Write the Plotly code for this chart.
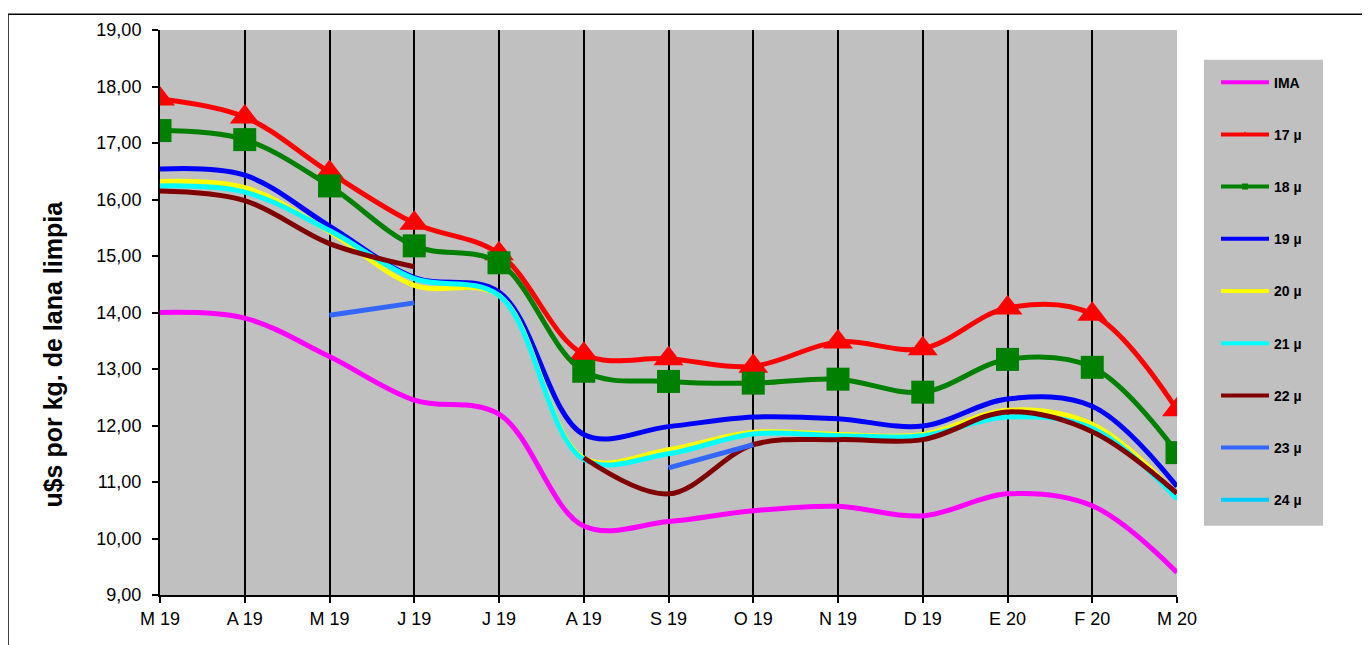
import plotly.graph_objects as go

months = ["M 19", "A 19", "M 19", "J 19", "J 19", "A 19", "S 19", "O 19",
          "N 19", "D 19", "E 20", "F 20", "M 20"]

ima  = [14.00, 13.90, 13.22, 12.45, 12.20, 10.22, 10.30, 10.49, 10.57, 10.40, 10.79, 10.58, 9.40]
m17  = [17.78, 17.46, 16.48, 15.58, 15.04, 13.26, 13.18, 13.05, 13.48, 13.36, 14.08, 13.97, 12.28]
m18  = [17.22, 17.06, 16.24, 15.18, 14.88, 12.96, 12.78, 12.75, 12.82, 12.59, 13.17, 13.03, 11.52]
m19  = [16.54, 16.43, 15.53, 14.62, 14.36, 11.84, 11.98, 12.15, 12.12, 11.99, 12.47, 12.34, 10.92]
m20  = [16.32, 16.21, 15.43, 14.48, 14.30, 11.42, 11.57, 11.88, 11.84, 11.84, 12.27, 12.02, 10.77]
m21  = [16.24, 16.13, 15.45, 14.60, 14.30, 11.40, 11.50, 11.85, 11.82, 11.82, 12.15, 11.95, 10.70]
m22  = [16.15, 15.98, 15.22, 14.81, None, 11.43, 10.79, 11.66, 11.75, 11.75, 12.24, 11.89, 10.80]
m23  = [None, None, 13.95, 14.17, None, None, 11.25, 11.66, None, None, None, None, None]
m24  = [None] * 13

names = ["IMA", "17 µ", "18 µ", "19 µ", "20 µ", "21 µ", "22 µ", "23 µ", "24 µ"]
series = [ima, m17, m18, m19, m20, m21, m22, m23, m24]
colors = ["#FF00FF", "#FF0000", "#008000", "#0000FF", "#FFFF00", "#00FFFF",
          "#800000", "#3366FF", "#00CCFF"]
symbols = [None, "triangle-up", "square", None, None, None, None, None, None]

x = list(range(len(months)))

fig = go.Figure()
for name, ys, col, sym in zip(names, series, colors, symbols):
    fig.add_trace(go.Scatter(
        x=x, y=ys, name=name, showlegend=False,
        mode="lines+markers" if sym else "lines",
        line=dict(color=col, width=5, shape="spline", smoothing=1.0),
        marker=dict(symbol=sym, size=26 if sym == "triangle-up" else 23, color=col) if sym else None,
        connectgaps=False, legendgroup=name,
    ))
# legend entries
for name, col, sym in zip(names, colors, symbols):
    fig.add_trace(go.Scatter(
        x=[None], y=[None], name=name, legendgroup=name, showlegend=True,
        mode="lines+markers" if sym else "lines",
        line=dict(color=col, width=4),
        marker=dict(symbol=sym, size=6, color=col) if sym else None,
    ))

# page offset of the figure inside the browser body
OFF = 8
SW, SH = 1370, 645
PX0, PX1, PY0, PY1 = 160, 1177, 24, 595   # plot area in screen pixels
W, H = SW - OFF, SH - OFF
L, T = PX0 - OFF, PY0 - OFF
R, B = W - (PX1 - OFF), H - (PY1 - OFF)
pw, ph = PX1 - PX0, PY1 - PY0

def px(xs):
    return (xs - PX0) / pw

def py(ys):
    return (PY1 - ys) / ph

fig.update_layout(
    width=W, height=H,
    margin=dict(l=L, r=R, t=T, b=B),
    paper_bgcolor="white",
    plot_bgcolor="#C0C0C0",
    separators=",.",
    font=dict(family="Liberation Sans, Arial", color="black"),
    showlegend=True,
    legend=dict(
        x=px(1216), y=py(61), xanchor="left", yanchor="top",
        bgcolor="rgba(0,0,0,0)", borderwidth=0,
        font=dict(size=14, family="Liberation Sans, Arial", color="black", weight="bold"),
        tracegroupgap=31, itemwidth=48, traceorder="grouped",
    ),
    xaxis=dict(
        range=[0, 12], tickmode="array", tickvals=x, ticktext=months,
        showgrid=True, gridcolor="black", gridwidth=2,
        showline=True, linecolor="black", linewidth=2,
        ticks="outside", ticklen=6, tickcolor="black", tickwidth=1.5,
        tickfont=dict(size=18), zeroline=False,
    ),
    yaxis=dict(
        range=[9, 19], dtick=1, tick0=9, tickformat=".2f",
        showgrid=False, showline=True, linecolor="black", linewidth=2,
        ticks="outside", ticklen=6, tickcolor="black", tickwidth=1.5,
        tickfont=dict(size=18), zeroline=False, ticklabelstandoff=7,
    ),
    shapes=[
        dict(type="rect", xref="paper", yref="paper",
             x0=px(1204), x1=px(1323), y0=py(525), y1=py(54),
             fillcolor="#C0C0C0", line=dict(width=0), layer="below"),
        dict(type="rect", xref="paper", yref="paper",
             x0=px(8), x1=px(1367), y0=py(700), y1=py(8),
             fillcolor="rgba(0,0,0,0)", line=dict(color="black", width=1.5)),
    ],
    annotations=[
        dict(text="u$s por kg. de lana limpia", xref="paper", yref="paper",
             x=px(53), y=py(352), xanchor="center", yanchor="middle",
             textangle=-90, showarrow=False,
             font=dict(size=25, family="Liberation Sans, Arial", color="black", weight="bold")),
    ],
)

fig.write_html("out.html")
